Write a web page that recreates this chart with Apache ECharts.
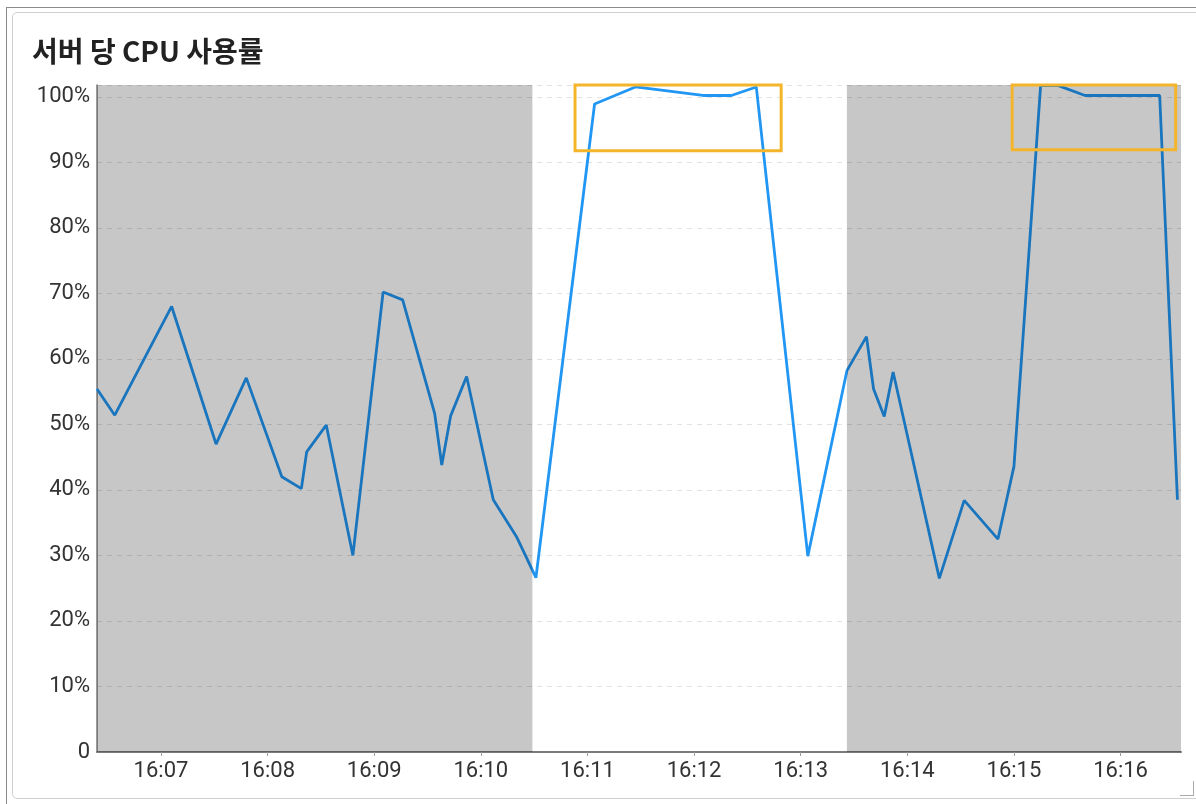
<!DOCTYPE html>
<html>
<head>
<meta charset="utf-8">
<script src="https://cdn.jsdelivr.net/npm/echarts@6/dist/echarts.min.js"></script>
<style>
  html, body { margin: 0; padding: 0; background: #fff; }
  #outer { position: absolute; left: 6px; top: 7px; width: 1200px; height: 800px;
           border-top: 1px solid #8a8a8a; border-left: 1px solid #8a8a8a; }
  #card { position: absolute; left: 12px; top: 12px; width: 1200px; height: 785px;
          border: 1.5px solid #cfcfcf; border-radius: 5px; }
  #grip { position: absolute; left: 1180px; top: 781px; width: 13px; height: 14px;
          border-right: 1.5px solid #aaa; border-bottom: 1.5px solid #aaa; }
  #chart { position: absolute; left: 0; top: 0; width: 1196px; height: 804px; }
</style>
</head>
<body>
<div id="outer"></div>
<div id="card"></div>
<div id="grip"></div>
<div id="chart"></div>
<script>
// ---- data ----
const title = '서버 당 CPU 사용률';
const times = [
  '16:06:24','16:06:34','16:07:06','16:07:31','16:07:48','16:08:08','16:08:19','16:08:22',
  '16:08:33','16:08:48','16:09:05','16:09:16','16:09:34','16:09:38','16:09:43','16:09:52',
  '16:10:07','16:10:20','16:10:31','16:11:04','16:11:27','16:12:05','16:12:21','16:12:35',
  '16:13:04','16:13:26','16:13:37','16:13:41','16:13:47','16:13:52','16:14:18','16:14:32',
  '16:14:51','16:15:00','16:15:15','16:15:25','16:15:40','16:16:22','16:16:32'
];
const cpu = [
  55.4, 51.4, 68.0, 47.0, 57.1, 42.0, 40.2, 45.8,
  49.9, 30.0, 70.2, 69.0, 51.7, 43.8, 51.3, 57.3,
  38.5, 32.9, 26.6, 98.9, 101.5, 100.2, 100.2, 101.5,
  29.9, 58.2, 63.4, 55.4, 51.2, 58.0, 26.5, 38.4,
  32.5, 43.6, 101.7, 101.7, 100.2, 100.2, 38.5
];
const axisStart = '16:06:24';
const axisEnd = '16:16:34';
const yMax = 101.8;
const shadedRanges = [['16:06:24', '16:10:29'], ['16:13:26', '16:16:34']];
const highlightBoxes = [
  { from: '16:10:53', to: '16:12:49', low: 91.75, high: 101.8 },
  { from: '16:14:59', to: '16:16:31', low: 91.9, high: 101.8 }
];

function ts(hms) {
  const p = hms.split(':').map(Number);
  return new Date(2024, 0, 1, p[0], p[1], p[2]).getTime();
}
const seriesData = times.map((t, i) => [ts(t), cpu[i]]);

const chart = echarts.init(document.getElementById('chart'), null, { renderer: 'canvas' });
chart.setOption({
  animation: false,
  backgroundColor: 'transparent',
  title: {
    text: title, left: 27, top: 32,
    textStyle: { fontFamily: 'Noto Sans CJK KR', fontWeight: 'bold', fontSize: 28, color: '#222' }
  },
  grid: { left: 97, right: 15, top: 85, bottom: 52, containLabel: false },
  xAxis: {
    type: 'time',
    min: ts(axisStart), max: ts(axisEnd),
    minInterval: 60000, maxInterval: 60000,
    axisLine: { show: true, lineStyle: { color: '#7a7a7a', width: 2 } },
    axisTick: { show: true, length: 4, lineStyle: { color: '#9a9a9a' } },
    splitLine: { show: false },
    axisLabel: {
      showMinLabel: false, showMaxLabel: false,
      color: '#333', fontSize: 22, fontFamily: 'Roboto', margin: 8,
      formatter: function (v) {
        const d = new Date(v);
        if (d.getSeconds() !== 0) return '';
        return String(d.getHours()).padStart(2, '0') + ':' + String(d.getMinutes()).padStart(2, '0');
      }
    }
  },
  yAxis: {
    type: 'value', min: 0, max: yMax, interval: 10,
    axisLine: { show: true, lineStyle: { color: '#7a7a7a', width: 1.5 } },
    axisTick: { show: false },
    splitLine: { show: true, lineStyle: { color: '#e2e2e2', type: [5, 5], width: 1 } },
    axisLabel: {
      showMaxLabel: false,
      color: '#333', fontSize: 22, fontFamily: 'Roboto', margin: 7,
      formatter: function (v) {
        if (Math.abs(v % 10) > 0.001) return '';
        return v === 0 ? '0' : v + '%';
      }
    }
  },
  series: [
    {
      type: 'line', data: seriesData, showSymbol: false, symbol: 'none', z: 2,
      lineStyle: { color: '#2196f3', width: 2.8 }
    },
    {
      type: 'line', data: [], z: 3,
      markArea: {
        silent: true, z: 3,
        itemStyle: { color: 'rgba(0,0,0,0.22)' },
        data: shadedRanges.map(r => [{ xAxis: ts(r[0]) }, { xAxis: ts(r[1]) }])
      }
    },
    {
      type: 'line', data: [], z: 4,
      markArea: {
        silent: true, z: 4,
        itemStyle: { color: 'rgba(0,0,0,0)', borderColor: '#f4b52a', borderWidth: 3 },
        data: highlightBoxes.map(b => [
          { xAxis: ts(b.from), yAxis: b.high },
          { xAxis: ts(b.to), yAxis: b.low }
        ])
      }
    }
  ]
});
</script>
</body>
</html>
